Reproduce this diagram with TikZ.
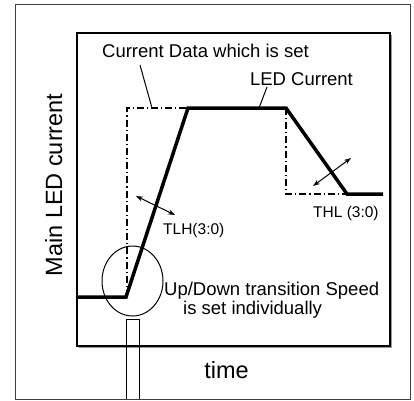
\documentclass[tikz,border=0pt]{standalone}
\usepackage{fontspec}
\setmainfont{Liberation Sans}
\usetikzlibrary{arrows.meta,shapes.geometric}
\begin{document}
\begin{tikzpicture}[x=1pt,y=-1pt,
  frame/.style={draw=black!75,line width=1pt},
  plotbox/.style={draw=black,line width=1.6pt},
  ledline/.style={draw=black,line width=3.5pt,line join=miter},
  setline/.style={draw=black,line width=1.2pt,dash pattern=on 7pt off 3pt on 1.2pt off 3pt},
  leader/.style={draw=black,line width=1pt},
  dblarrow/.style={draw=black,line width=1pt,{Stealth[length=7pt,width=5pt]}-{Stealth[length=7pt,width=5pt]}},
  big/.style={font=\fontsize{23.5}{26}\selectfont,inner sep=0pt},
  mid/.style={font=\fontsize{18.5}{20}\selectfont,inner sep=0pt},
  small/.style={font=\fontsize{15.5}{17}\selectfont,inner sep=0pt}]
\useasboundingbox (0,0) rectangle (414,400);
% outer frame
\draw[frame] (15,4) rectangle (410,399);
% plot area with shadow
\draw[draw=black!40,line width=1.2pt] (391.5,35) -- (391.5,347.5) -- (79,347.5);
\draw[plotbox] (77,33) rectangle (390,346);
% coordinates
\coordinate (l0) at (77,297);
\coordinate (l1) at (126,297);
\coordinate (l2) at (188,108);
\coordinate (l3) at (286,108);
\coordinate (l4) at (347,194);
\coordinate (l5) at (383,194);
\coordinate (s0) at (127,297);
\coordinate (s1) at (127,108);
\coordinate (s2) at (286,194);
% set current (dash-dot)
\draw[setline] (s0) -- (s1) -- (l2);
\draw[setline] (l3) -- (s2) -- (l4);
% LED current
\draw[ledline] (l0) -- (l1) -- (l2) -- (l3) -- (l4) -- (l5);
% labels
\node[mid,anchor=base] (cds) at (205.5,57) {Current Data which is set};
\node[mid,anchor=base] (ledc) at (301.5,85) {LED Current};
\coordinate (cdsA) at (140,65);
\coordinate (cdsB) at (152,108);
\coordinate (ledA) at (267,87);
\coordinate (ledB) at (259,108);
\draw[leader] (cdsA) -- (cdsB);
\draw[leader] (ledA) -- (ledB);
% transition arrows
\coordinate (tlhA) at (136,196);
\coordinate (tlhB) at (175,215);
\coordinate (thlA) at (313,186);
\coordinate (thlB) at (351,158);
\draw[dblarrow] (tlhA) -- (tlhB);
\draw[dblarrow] (thlA) -- (thlB);
\node[small,anchor=base west] (tlh) at (163,234) {TLH(3:0)};
\node[small,anchor=base west] (thl) at (313,217) {THL (3:0)};
% circle and stem
\node[draw=black,line width=1pt,ellipse,minimum width=61pt,minimum height=70pt,inner sep=0pt] (circ) at (132.5,281) {};
\draw[draw=black,line width=1pt] (126,399) -- (126,319) -- (139,319) -- (139,399);
\node[mid,anchor=base west] (ud1) at (164,295) {Up/Down transition Speed};
\node[mid,anchor=base west] (ud2) at (183,314.5) {is set individually};
% axis labels
\node[big,anchor=base] (time) at (226.5,378) {time};
\node[big,anchor=base,rotate=90] (ylab) at (62,185) {Main LED current};
\end{tikzpicture}
\end{document}
